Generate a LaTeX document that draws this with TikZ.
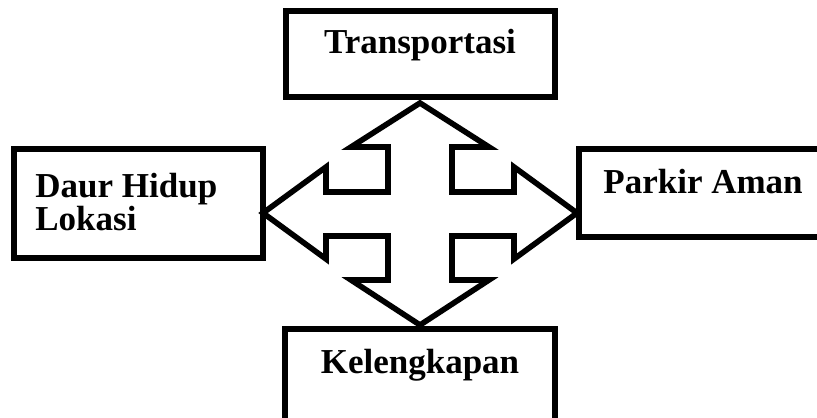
\documentclass[tikz,border=0pt]{standalone}
\usepackage{fontspec}
\setmainfont{Liberation Serif}
\begin{document}
\begin{tikzpicture}[x=0.5pt,y=-0.5pt,
  box/.style={draw, rectangle, line width=3pt, inner sep=0pt},
  label/.style={font=\bfseries\fontsize{17.5pt}{21pt}\selectfont, inner sep=0pt},
  cross/.style={draw, line width=2.8pt, line join=miter}]
  \useasboundingbox (0,0) rectangle (817,417);
  \clip (0,0) rectangle (817,417);

  % boxes
  \node[box, minimum width=134.5pt, minimum height=43pt] (trans) at (420.5,53.7) {};
  \node[box, minimum width=124.5pt, minimum height=54.5pt] (daur) at (138.5,203.5) {};
  \node[box, minimum width=124.5pt, minimum height=44pt] (park) at (703.5,193) {};
  \node[box, minimum width=135pt, minimum height=48pt] (kel) at (420,377) {};

  % labels
  \node[label, anchor=base] (transT) at (420,54) {Transportasi};
  \node[label, anchor=base west] (daurA) at (35,197) {Daur Hidup};
  \node[label, anchor=base west] (daurB) at (35,230) {Lokasi};
  \node[label, anchor=base west] (parkT) at (603,193) {Parkir Aman};
  \node[label, anchor=base] (kelT) at (420,373) {Kelengkapan};

  % four-way arrow
  \coordinate (hub) at (420,213);
  \begin{scope}[shift={(hub)}]
    \draw[cross]
      (0,-110) -- (69,-66) -- (32,-66) -- (32,-21) -- (94,-21) -- (94,-46)
      -- (157,0) -- (94,46) -- (94,23) -- (32,23) -- (32,67) -- (69,67)
      -- (0,112) -- (-69,67) -- (-32,67) -- (-32,23) -- (-94,23) -- (-94,46)
      -- (-157,0) -- (-94,-46) -- (-94,-21) -- (-32,-21) -- (-32,-66) -- (-69,-66)
      -- cycle;
  \end{scope}
\end{tikzpicture}
\end{document}
